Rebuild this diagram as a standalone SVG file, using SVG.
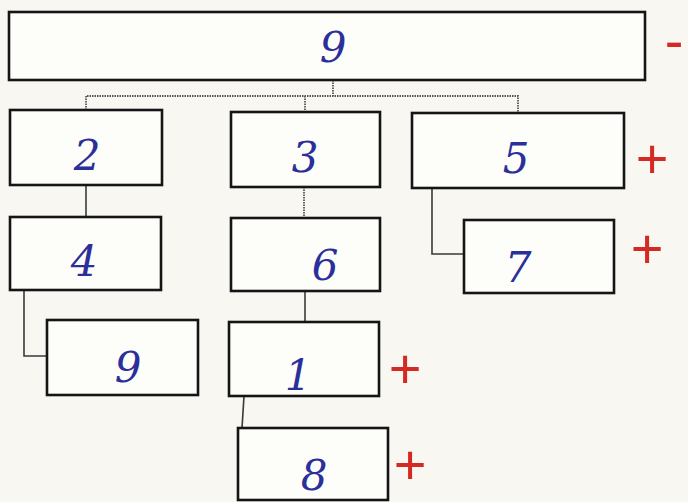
<svg xmlns="http://www.w3.org/2000/svg" width="688" height="502" viewBox="0 0 688 502">
<defs>
<style>
.box{fill:#fdfdf9;stroke:#151515;stroke-width:2.6}
.lbl{font-family:"DejaVu Serif","Liberation Serif",serif;font-style:italic;font-size:42px;fill:#2b2f9a;text-anchor:middle}
.mark{font-family:"Liberation Sans",sans-serif;font-size:56px;fill:#d42a24;text-anchor:middle}
.con{fill:none;stroke:#3a3a3a;stroke-width:1.6}
.dot{fill:none;stroke:#555;stroke-width:1.8;stroke-dasharray:1.5 1}
</style>
</defs>
<rect width="688" height="502" fill="#f8f7f1"/>
<g id="connectors">
<path class="dot" d="M333,80 V96 M86,110 V96 H518 V113 M305,96 V112"/>
<path class="con" d="M86,185 V217"/>
<path class="dot" d="M304,187 V218"/>
<path class="con" d="M432,188 V254 H464"/>
<path class="con" d="M24,290 V356 H47"/>
<path class="con" d="M305,291 V322"/>
<path class="con" d="M244,396 L242,428"/>
</g>
<g id="n9top"><rect class="box" x="9" y="12" width="636" height="68"/><text class="lbl" x="333" y="62">9</text></g>
<g id="n2"><rect class="box" x="10" y="110" width="152" height="75"/><text class="lbl" x="87" y="170">2</text></g>
<g id="n3"><rect class="box" x="231" y="112" width="149" height="75"/><text class="lbl" x="305" y="172">3</text></g>
<g id="n5"><rect class="box" x="412" y="113" width="212" height="75"/><text class="lbl" x="516" y="173">5</text></g>
<g id="n4"><rect class="box" x="10" y="217" width="151" height="73"/><text class="lbl" x="84" y="276">4</text></g>
<g id="n6"><rect class="box" x="231" y="218" width="149" height="73"/><text class="lbl" x="325" y="280">6</text></g>
<g id="n7"><rect class="box" x="464" y="220" width="150" height="73"/><text class="lbl" x="518" y="282">7</text></g>
<g id="n9"><rect class="box" x="47" y="320" width="151" height="75"/><text class="lbl" x="128" y="382">9</text></g>
<g id="n1"><rect class="box" x="229" y="322" width="150" height="74"/><text class="lbl" x="298" y="390">1</text></g>
<g id="n8"><rect class="box" x="238" y="428" width="150" height="72"/><text class="lbl" x="314" y="490">8</text></g>
<g id="marks">
<text class="mark" x="674" y="60">-</text>
<text class="mark" x="652" y="178">+</text>
<text class="mark" x="647" y="268">+</text>
<text class="mark" x="405" y="388">+</text>
<text class="mark" x="410" y="484">+</text>
</g>
</svg>
